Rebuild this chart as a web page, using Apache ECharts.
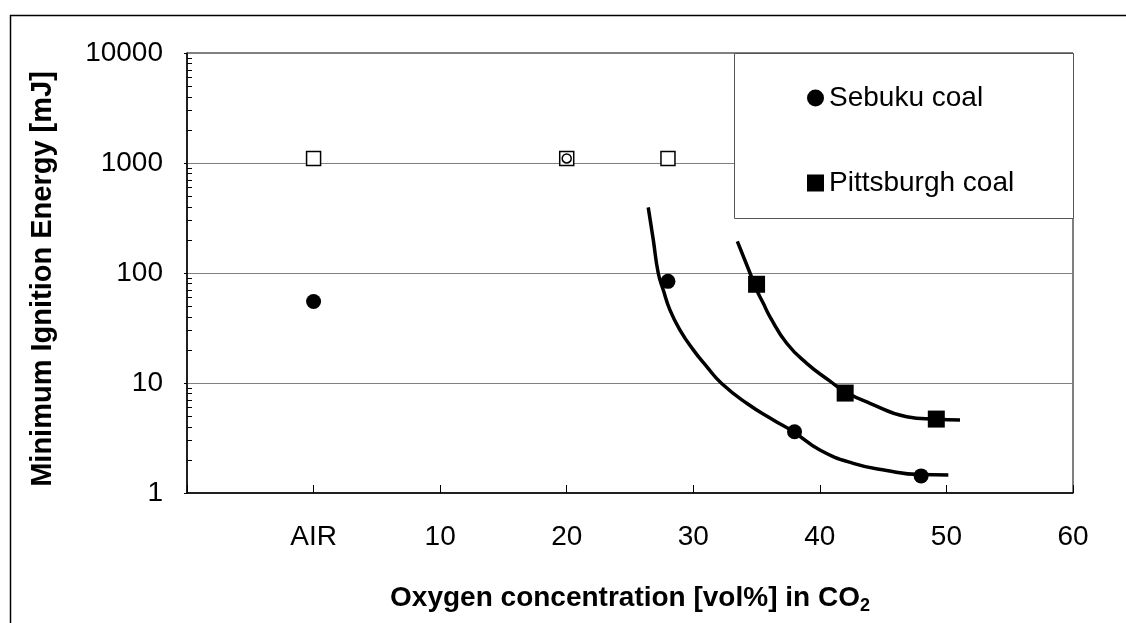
<!DOCTYPE html>
<html>
<head>
<meta charset="utf-8">
<script src="https://cdn.jsdelivr.net/npm/echarts@6/dist/echarts.min.js"></script>
<style>
  html, body { margin: 0; padding: 0; background: #fff; }
  #chart { width: 1126px; height: 623px; }
</style>
</head>
<body>
<div id="chart"></div>
<script>
  // x ticks: -10 (blank), AIR = 0, then 10..60
  const xTickValues = [-10, 0, 10, 20, 30, 40, 50, 60];
  const xTickLabels = ['', 'AIR', '10', '20', '30', '40', '50', '60'];
  const yMinorTicks = [2, 3, 4, 5, 6, 7, 8, 9, 20, 30, 40, 50, 60, 70, 80, 90,
    200, 300, 400, 500, 600, 700, 800, 900, 2000, 3000, 4000, 5000, 6000, 7000, 8000, 9000];

  // measured points
  const sebukuX = [0, 28, 38, 48];
  const sebukuY = [55, 84, 3.6, 1.43];
  const pittsX = [35, 42, 49.2];
  const pittsY = [79, 8.1, 4.7];
  // open markers near 1000 mJ
  const openSquareX = [0, 20, 28];
  const openSquareY = [1100, 1100, 1100];
  const openCircleX = [20];
  const openCircleY = [1100];

  // fitted curves
  const sebukuFitX = [26.44, 26.84, 27.23, 27.63, 28.16, 28.95, 30.0, 31.06, 32.24, 34.22,
    36.32, 37.9, 40.0, 42.64, 45.28, 47.9, 50.15];
  const sebukuFitY = [395, 200, 100, 70, 46, 30.3, 20, 14.1, 9.9, 6.54,
    4.61, 3.61, 2.46, 1.86, 1.6, 1.47, 1.46];
  const pittsFitX = [33.48, 34.48, 35.01, 35.53, 36.06, 37.38, 38.96, 40.8, 41.99, 43.96,
    46.86, 49.17, 51.07];
  const pittsFitY = [194, 100, 70, 53, 40, 23, 15.1, 10.4, 8.34, 6.54,
    4.94, 4.68, 4.61];

  const zip = (xs, ys) => xs.map((x, i) => [x, ys[i]]);
  const font = '"Liberation Sans", Arial, sans-serif';

  const chart = echarts.init(document.getElementById('chart'));
  chart.setOption({
    animation: false,
    textStyle: { fontFamily: font, color: '#000' },
    grid: {
      left: 187, right: 53, top: 53, bottom: 130,
      show: true, borderColor: '#000', borderWidth: 1
    },
    graphic: [
      // outer frame
      { type: 'rect', left: 8, top: 13, z: 0, silent: true,
        shape: { width: 1200, height: 700 },
        style: { fill: 'none', stroke: '#000', lineWidth: 1.5 } },
      // legend box
      { type: 'rect', left: 734, top: 53, z: 10, silent: true,
        shape: { width: 339, height: 165 },
        style: { fill: '#fff', stroke: '#555', lineWidth: 1 } }
    ],
    legend: {
      data: ['Sebuku coal', 'Pittsburgh coal'],
      orient: 'vertical',
      left: 802, top: 79,
      z: 20,
      itemWidth: 17, itemHeight: 17,
      itemGap: 57,
      textStyle: { fontFamily: font, fontSize: 28, color: '#000' }
    },
    xAxis: {
      type: 'value',
      min: -10, max: 60, interval: 10,
      name: 'Oxygen concentration [vol%] in CO{sub|2}',
      nameLocation: 'middle',
      nameGap: 88,
      nameTextStyle: {
        fontFamily: font, fontSize: 28, fontWeight: 'bold', color: '#000', lineHeight: 34,
        rich: { sub: { fontFamily: font, fontSize: 18, fontWeight: 'bold', lineHeight: 18, verticalAlign: 'bottom' } }
      },
      axisLine: { onZero: false, lineStyle: { color: '#000', width: 1.5 } },
      axisTick: { inside: true, length: 8, lineStyle: { color: '#000' } },
      splitLine: { show: false },
      axisLabel: {
        margin: 30, fontSize: 28, color: '#000', fontFamily: font,
        formatter: v => xTickLabels[xTickValues.indexOf(v)] || ''
      }
    },
    yAxis: [{
      type: 'log',
      logBase: 10,
      min: 1, max: 10000,
      name: 'Minimum Ignition Energy [mJ]',
      nameLocation: 'middle',
      nameGap: 130,
      nameTextStyle: { fontFamily: font, fontSize: 29, fontWeight: 'bold', color: '#000', padding: [0, 12, 0, 0] },
      axisLine: { show: true, onZero: false, lineStyle: { color: '#000', width: 1.5 } },
      axisTick: { show: true, length: 3, lineStyle: { color: '#000' } },
      splitLine: { show: true, lineStyle: { color: '#808080', width: 1.2 } },
      axisLabel: { margin: 24, fontSize: 28, color: '#000', fontFamily: font, formatter: v => String(v) }
    }, {
      type: 'log',
      logBase: 10,
      min: 1, max: 10000,
      position: 'left',
      axisLine: { show: false, onZero: false },
      splitLine: { show: false },
      axisLabel: { show: false },
      axisTick: { show: true, inside: true, length: 5, customValues: yMinorTicks, lineStyle: { color: '#000' } }
    }],
    series: [
      {
        name: 'Sebuku fit', type: 'line', smooth: 0.5, showSymbol: false,
        data: zip(sebukuFitX, sebukuFitY),
        lineStyle: { color: '#000', width: 3.5 }, z: 3
      },
      {
        name: 'Pittsburgh fit', type: 'line', smooth: 0.5, showSymbol: false,
        data: zip(pittsFitX, pittsFitY),
        lineStyle: { color: '#000', width: 3.5 }, z: 3
      },
      {
        name: 'Sebuku coal', type: 'scatter', symbol: 'circle', symbolSize: 15,
        data: zip(sebukuX, sebukuY),
        itemStyle: { color: '#000', opacity: 1 }, z: 5
      },
      {
        name: 'Pittsburgh coal', type: 'scatter', symbol: 'rect', symbolSize: 17,
        data: zip(pittsX, pittsY),
        itemStyle: { color: '#000', opacity: 1 }, z: 5
      },
      {
        name: 'No ignition', type: 'scatter', symbol: 'rect', symbolSize: 14,
        data: zip(openSquareX, openSquareY),
        itemStyle: { color: '#fff', borderColor: '#000', borderWidth: 1.5, opacity: 1 }, z: 5
      },
      {
        name: 'No ignition (Sebuku)', type: 'scatter', symbol: 'circle', symbolSize: 9,
        data: zip(openCircleX, openCircleY),
        itemStyle: { color: '#fff', borderColor: '#000', borderWidth: 1.5, opacity: 1 }, z: 6
      }
    ]
  });
</script>
</body>
</html>
